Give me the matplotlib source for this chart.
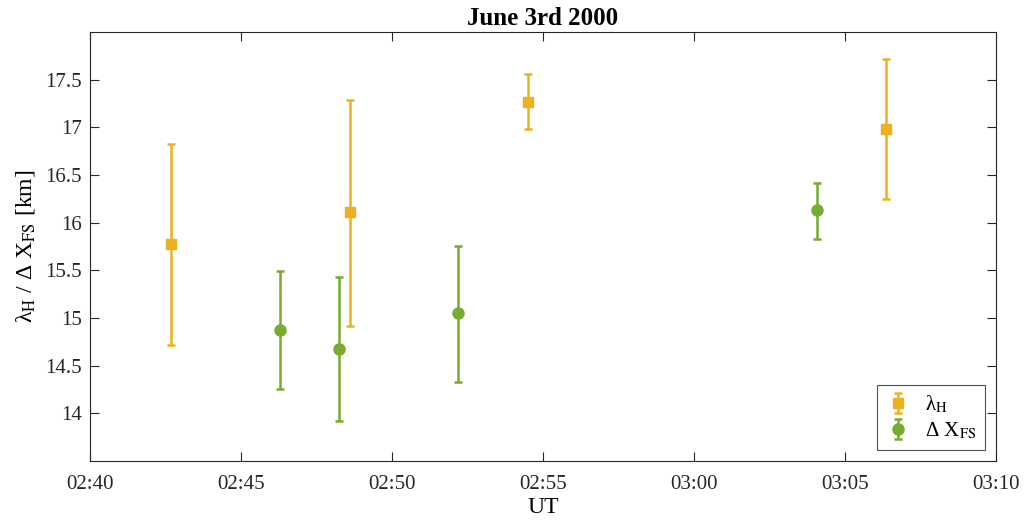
import matplotlib
matplotlib.use("Agg")
import matplotlib.pyplot as plt
import matplotlib.dates as mdates
import pandas as pd

plt.rcParams['font.family'] = ['Liberation Serif', 'DejaVu Serif']
plt.rcParams['mathtext.fontset'] = 'stix'

# lambda_H series
lam_times = ["02:42:41", "02:48:36", "02:54:31", "03:06:22"]
lam_vals = [15.78, 16.11, 17.27, 16.98]
lam_lo = [14.72, 14.92, 16.98, 16.25]
lam_hi = [16.83, 17.29, 17.56, 17.72]

# Delta X_FS series
dx_times = ["02:46:17", "02:48:14", "02:52:12", "03:04:05"]
dx_vals = [14.87, 14.68, 15.05, 16.13]
dx_lo = [14.26, 13.92, 14.33, 15.83]
dx_hi = [15.49, 15.43, 15.76, 16.42]

yticks = [14, 14.5, 15, 15.5, 16, 16.5, 17, 17.5]
ytick_labels = ['14', '14.5', '15', '15.5', '16', '16.5', '17', '17.5']

day = "2000-06-03 "
lam_t = pd.to_datetime([day + t for t in lam_times])
dx_t = pd.to_datetime([day + t for t in dx_times])

orange = '#EDB120'
green = '#77AC30'

fig = plt.figure(figsize=(10.25, 5.27), dpi=100)
ax = fig.add_axes([90/1025, 1 - 461/527, (996-90)/1025, (461-32)/527])

ax.errorbar(lam_t, lam_vals,
            yerr=[[v - l for v, l in zip(lam_vals, lam_lo)], [h - v for v, h in zip(lam_vals, lam_hi)]],
            fmt='s', color=orange, ecolor=orange, markersize=7, elinewidth=1.8,
            capsize=3, capthick=1.8, label='λ$_{\\mathrm{H}}$')
ax.errorbar(dx_t, dx_vals,
            yerr=[[v - l for v, l in zip(dx_vals, dx_lo)], [h - v for v, h in zip(dx_vals, dx_hi)]],
            fmt='o', color=green, ecolor=green, markersize=8, elinewidth=1.8,
            capsize=3, capthick=1.8, label='Δ X$_{\\mathrm{FS}}$')

ax.set_xlim(pd.Timestamp(day + "02:40:00"), pd.Timestamp(day + "03:10:00"))
ax.set_ylim(13.5, 18.0)
ax.xaxis.set_major_locator(mdates.MinuteLocator(byminute=range(0, 60, 5)))
ax.xaxis.set_major_formatter(mdates.DateFormatter('%H:%M'))
ax.set_yticks(yticks)
ax.set_yticklabels(ytick_labels)

for s in ax.spines.values():
    s.set_color('#262626')
    s.set_linewidth(0.8)
ax.tick_params(direction='in', top=True, right=True, length=6.5, width=0.8,
               colors='#262626', labelsize=15)
ax.tick_params(axis='x', pad=10)
ax.tick_params(axis='y', pad=6)

ax.set_title('June 3rd 2000', fontsize=18, fontweight='bold', pad=5)
ax.set_xlabel('UT', fontsize=17, labelpad=2)
ax.set_ylabel('λ$_{\\mathrm{H}}$ / Δ X$_{\\mathrm{FS}}$ [km]', fontsize=17, labelpad=6)

leg = ax.legend(loc='lower right', fontsize=15, frameon=True, fancybox=False,
                edgecolor='#262626', borderaxespad=0.55, handletextpad=0.7,
                handlelength=1.2, labelspacing=0.25, borderpad=0.4)
leg.get_frame().set_linewidth(0.8)

fig.savefig('out.png', dpi=100)
